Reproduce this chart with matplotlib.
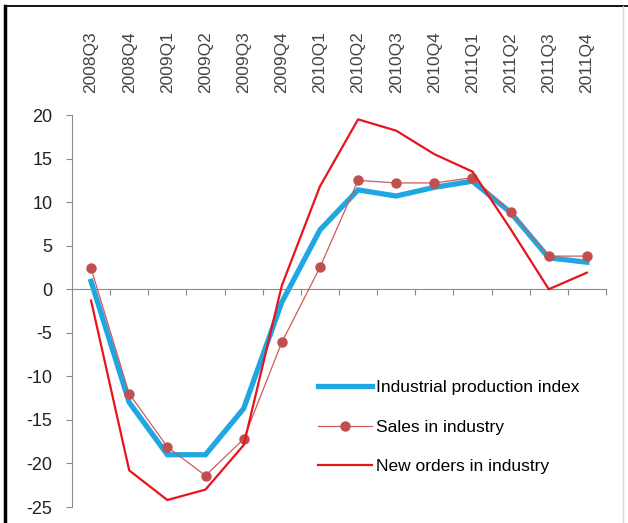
import matplotlib.pyplot as plt
from matplotlib.lines import Line2D
import numpy as np

quarters = ["2008Q3", "2008Q4", "2009Q1", "2009Q2", "2009Q3", "2009Q4", "2010Q1",
            "2010Q2", "2010Q3", "2010Q4", "2011Q1", "2011Q2", "2011Q3", "2011Q4"]
production = [0.9, -13.0, -19.0, -19.0, -13.7, -1.5, 6.8,
              11.4, 10.7, 11.7, 12.4, 8.8, 3.6, 3.1]
sales = [2.4, -12.0, -18.1, -21.4, -17.2, -6.1, 2.5,
         12.5, 12.2, 12.2, 12.8, 8.9, 3.8, 3.8]
new_orders = [-1.3, -20.8, -24.2, -23.0, -17.9, 0.4, 11.8,
              19.5, 18.2, 15.5, 13.5, 6.9, 0.0, 1.9]

plt.rcParams['font.family'] = ['Liberation Sans', 'DejaVu Sans']
plt.rcParams['axes.unicode_minus'] = False

fig = plt.figure(figsize=(6.28, 5.23), dpi=100)
ax = fig.add_axes([72/628, 1 - 507/523, (606-72)/628, (507-115)/523])

x = np.arange(len(quarters))
ax.plot(x, production, color='#1ea7e1', lw=3.8, solid_joinstyle='miter',
        label='Industrial production index', zorder=2)
ax.plot(x, sales, color='#d05a58', lw=0.9, marker='o', ms=6.5,
        mfc='#c0504d', mec='#c0504d', label='Sales in industry', zorder=3)
ax.plot(x, new_orders, color='#e8141c', lw=1.6, label='New orders in industry', zorder=4)

ax.set_xlim(-0.5, len(quarters) - 0.5)
ax.set_ylim(-25, 20)
ax.set_yticks(np.arange(-25, 21, 5))

axis_grey = '#8c8c8c'
for s in ['top', 'right']:
    ax.spines[s].set_visible(False)
ax.spines['left'].set_color(axis_grey)
ax.spines['bottom'].set_color(axis_grey)
ax.spines['bottom'].set_position(('data', 0))
ax.set_xticks(np.arange(0.5, len(quarters), 1.0))
ax.set_xticklabels([])
ax.tick_params(axis='x', direction='out', length=4, color=axis_grey)
ax.tick_params(axis='y', direction='out', length=4, color=axis_grey,
               labelsize=13, labelcolor='#222222', pad=10)

top = ax.secondary_xaxis('top')
top.set_xticks(x)
top.set_xticklabels(quarters, rotation=90, fontsize=12.5, color='#444444')
top.tick_params(length=0, pad=16)
top.spines['top'].set_visible(False)

ax.legend(loc='center left', bbox_to_anchor=(318/628, 1 - 427/523),
          bbox_transform=fig.transFigure, frameon=False, fontsize=12.5,
          handlelength=3.1, handletextpad=0.25, labelspacing=1.4,
          borderpad=0, borderaxespad=0, numpoints=1)

# frame of the cut-out picture
fig.add_artist(Line2D([5/628, 5/628], [0, 1 - 6/523], color='black', lw=2.5,
                      transform=fig.transFigure))
fig.add_artist(Line2D([5/628, 1], [1 - 6/523, 1 - 6/523], color='black', lw=1.3,
                      transform=fig.transFigure))
fig.add_artist(Line2D([623/628, 623/628], [0, 1 - 6/523], color='#d8d8d8', lw=1,
                      transform=fig.transFigure))

fig.savefig('out.png', dpi=100)
